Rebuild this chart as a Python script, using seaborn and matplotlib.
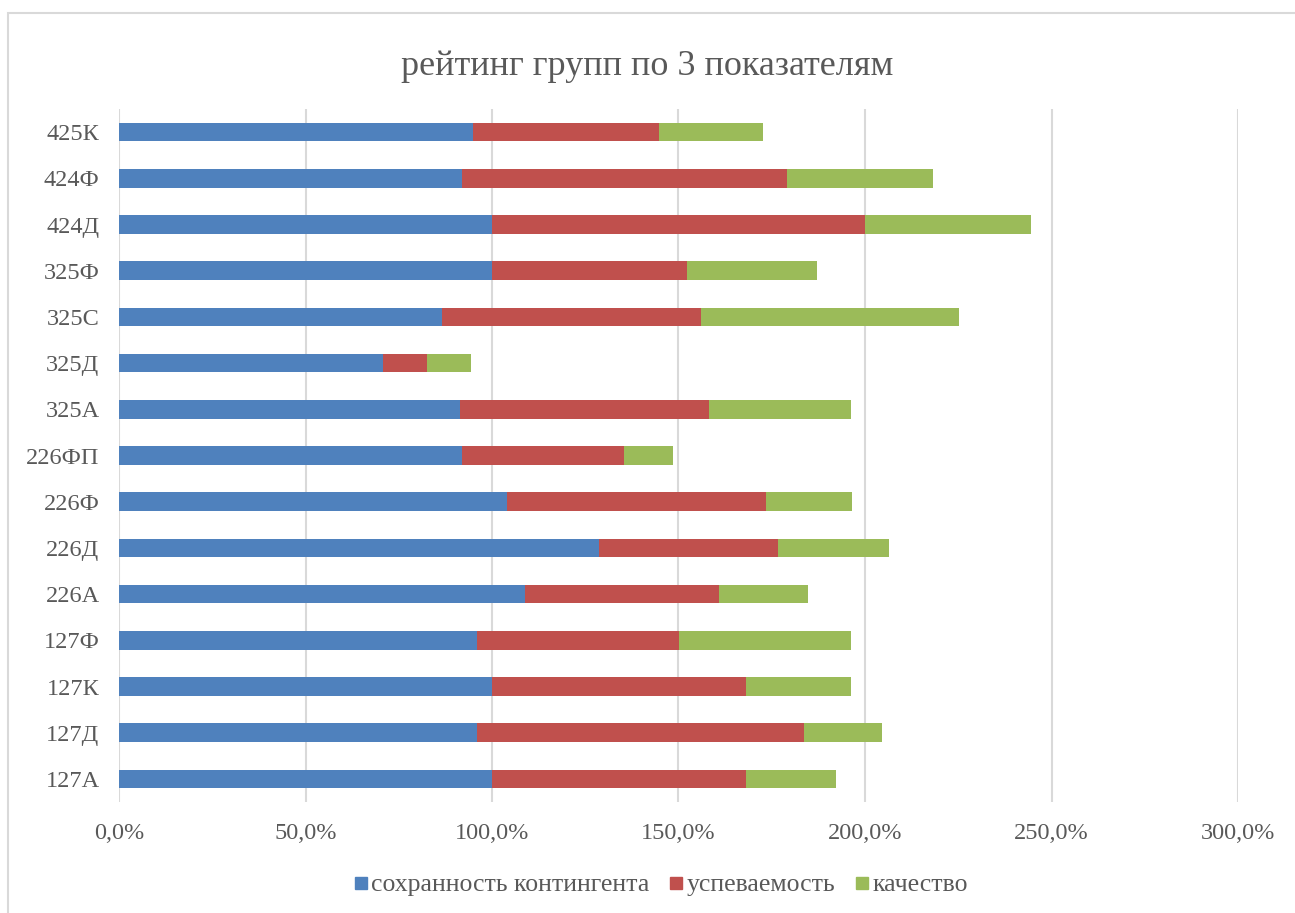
import matplotlib
matplotlib.use("Agg")
import matplotlib.pyplot as plt
import seaborn as sns
import pandas as pd
import numpy as np
from matplotlib.lines import Line2D
from matplotlib.patches import Rectangle
from matplotlib.ticker import FuncFormatter, MultipleLocator

groups = ["425К", "424Ф", "424Д", "325Ф", "325С", "325Д", "325А", "226ФП",
          "226Ф", "226Д", "226А", "127Ф", "127К", "127Д", "127А"]
sohrannost = [94.8, 92.0, 100.0, 100.0, 86.7, 70.9, 91.3, 92.0,
              104.0, 128.6, 108.8, 96.1, 100.0, 96.1, 100.0]
uspevaemost = [50.0, 87.0, 100.0, 52.2, 69.2, 11.7, 66.8, 43.5,
               69.4, 48.2, 52.0, 54.1, 68.0, 87.5, 68.0]
kachestvo = [27.8, 39.3, 44.6, 34.9, 69.4, 11.8, 38.1, 13.1,
             23.0, 29.7, 23.9, 46.0, 28.2, 20.9, 24.1]
series_names = ["сохранность контингента", "успеваемость", "качество"]
x_ticks = [0, 50, 100, 150, 200, 250, 300]

colors = ["#4F81BD", "#C0504D", "#9BBB59"]
text_color = "#595959"
grid_color = "#D9D9D9"

sns.set_theme(style="white")
plt.rcParams["font.family"] = ["Liberation Serif", "DejaVu Serif"]

df = pd.DataFrame({"group": groups, "s1": sohrannost, "s2": uspevaemost, "s3": kachestvo})
df["c1"] = df["s1"]
df["c2"] = df["s1"] + df["s2"]
df["c3"] = df["c2"] + df["s3"]

fig = plt.figure(figsize=(12.95, 9.13), dpi=100)
ax = fig.add_axes([119 / 1295, 111 / 913, (1238 - 119) / 1295, (802 - 109) / 913])

for col, color in zip(["c3", "c2", "c1"], colors[::-1]):
    sns.barplot(data=df, x=col, y="group", order=groups, color=color,
                orient="h", width=0.4, ax=ax, saturation=1, edgecolor="none",
                linewidth=0, zorder=3)

ax.set_xlim(0, 300)
ax.set_ylim(len(groups) - 0.5, -0.5)
ax.set_xticks(x_ticks)
ax.xaxis.set_major_formatter(FuncFormatter(lambda v, p: f"{v:.1f}%".replace(".", ",")))
ax.grid(axis="x", color=grid_color, linewidth=1.5, zorder=0)
ax.grid(axis="y", visible=False)
ax.set_axisbelow(True)
for s in ax.spines.values():
    s.set_visible(False)
ax.set_xlabel("")
ax.set_ylabel("")
ax.tick_params(axis="x", length=0, pad=15, labelsize=17.5, labelcolor=text_color)
ax.tick_params(axis="y", length=0, pad=14, labelsize=17.5, labelcolor=text_color)

fig.text(647 / 1295, 1 - 75 / 913, "рейтинг групп по 3 показателям",
         ha="center", va="baseline", fontsize=26, color=text_color)

handles = [Line2D([0], [0], marker="s", linestyle="none", markersize=8,
                  markerfacecolor=c, markeredgecolor=c) for c in colors]
leg = fig.legend(handles, series_names, loc="center",
                 bbox_to_anchor=(661 / 1295, 1 - 885 / 913), ncol=3, frameon=False,
                 fontsize=18.5, handlelength=0.5, handletextpad=0.15, columnspacing=0.8,
                 labelcolor=text_color)

fig.patches.append(Rectangle((8 / 1295, -0.1), 1.2, 0.1 + (1 - 13 / 913),
                             transform=fig.transFigure, fill=False,
                             edgecolor=grid_color, linewidth=1.5))

fig.savefig("out.png", dpi=100, facecolor="white")
